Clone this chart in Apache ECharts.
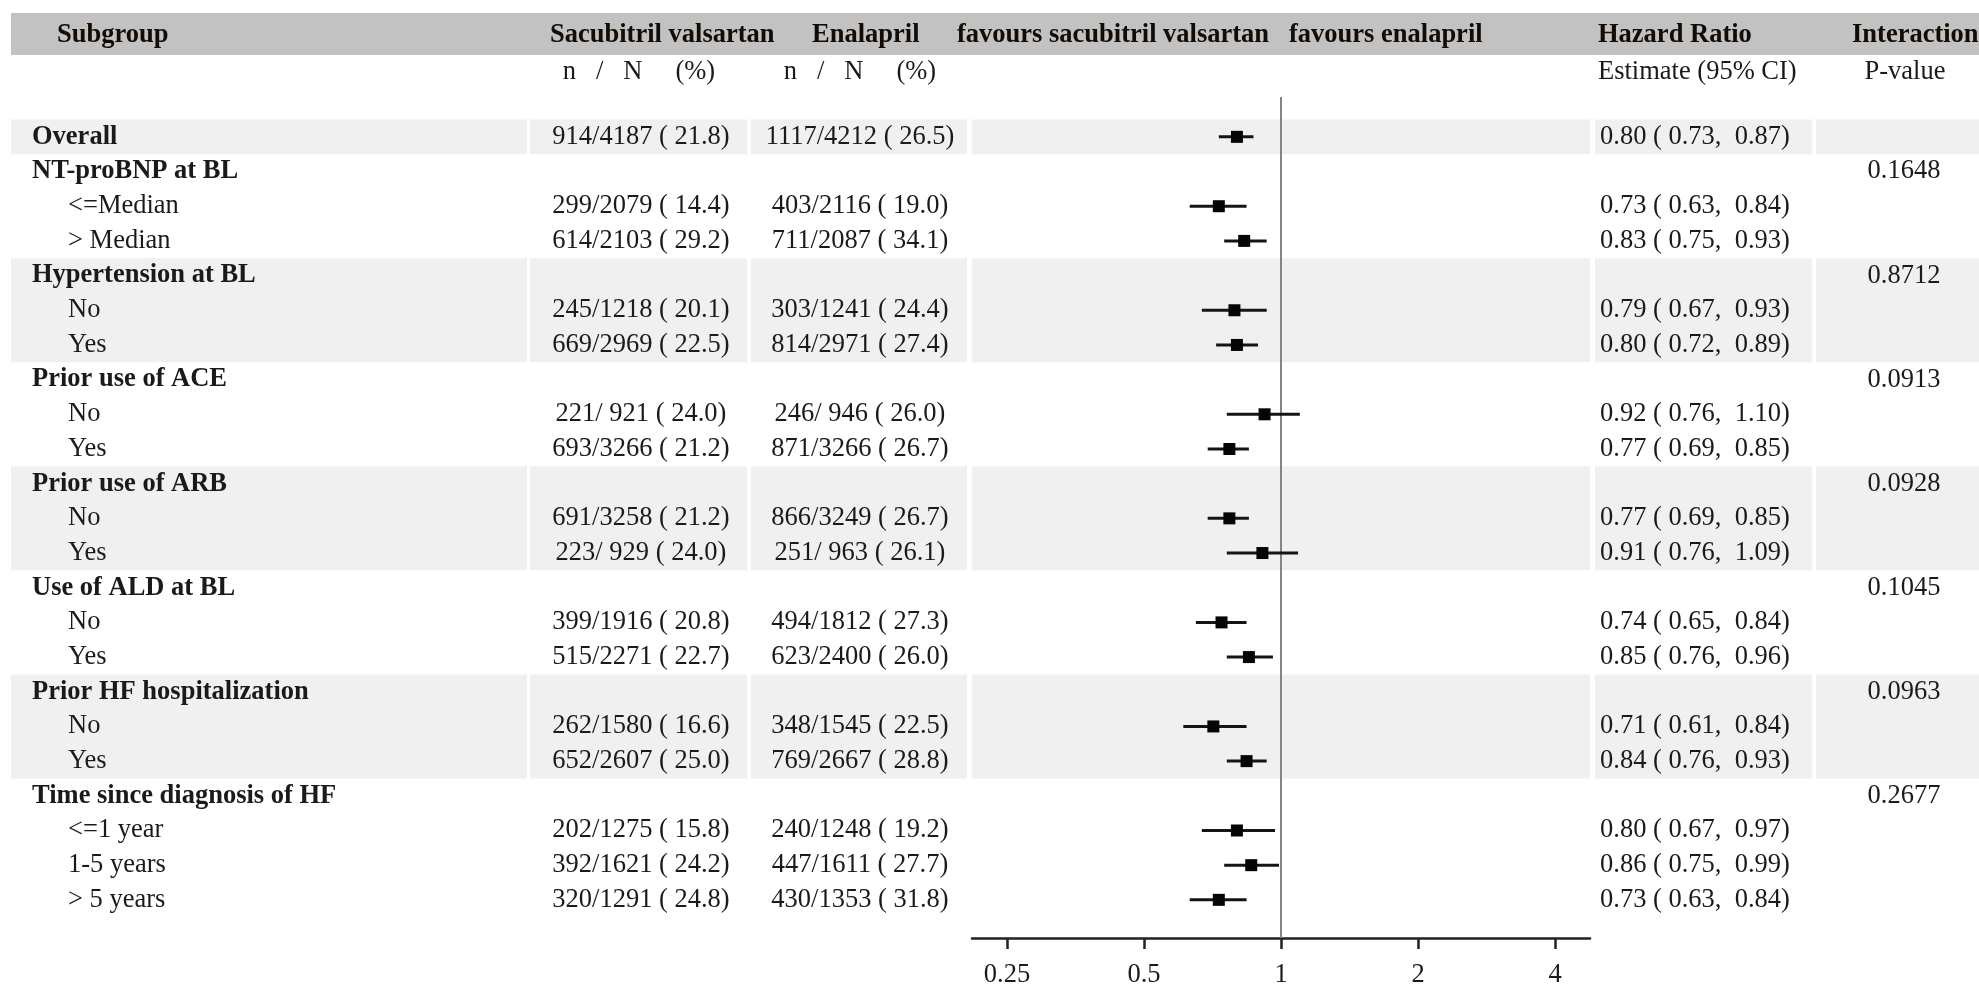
<!DOCTYPE html>
<html><head><meta charset="utf-8">
<script src="https://cdn.jsdelivr.net/npm/echarts@6/dist/echarts.min.js"></script>
<style>html,body{margin:0;padding:0;background:#fff}#c{width:1979px;height:989px}</style>
</head><body><div id="c"></div>
<script>
// ---------- data ----------
const subgroups = ["Overall","NT-proBNP at BL","<=Median","> Median","Hypertension at BL","No","Yes",
  "Prior use of ACE","No","Yes","Prior use of ARB","No","Yes","Use of ALD at BL","No","Yes",
  "Prior HF hospitalization","No","Yes","Time since diagnosis of HF","<=1 year","1-5 years","> 5 years"];
const headerRows = [0,1,4,7,10,13,16,19];
const sacN   = [914,null,299,614,null,245,669,null,221,693,null,691,223,null,399,515,null,262,652,null,202,392,320];
const sacTot = [4187,null,2079,2103,null,1218,2969,null,921,3266,null,3258,929,null,1916,2271,null,1580,2607,null,1275,1621,1291];
const sacPct = [21.8,null,14.4,29.2,null,20.1,22.5,null,24.0,21.2,null,21.2,24.0,null,20.8,22.7,null,16.6,25.0,null,15.8,24.2,24.8];
const enaN   = [1117,null,403,711,null,303,814,null,246,871,null,866,251,null,494,623,null,348,769,null,240,447,430];
const enaTot = [4212,null,2116,2087,null,1241,2971,null,946,3266,null,3249,963,null,1812,2400,null,1545,2667,null,1248,1611,1353];
const enaPct = [26.5,null,19.0,34.1,null,24.4,27.4,null,26.0,26.7,null,26.7,26.1,null,27.3,26.0,null,22.5,28.8,null,19.2,27.7,31.8];
const hrEst  = [0.80,null,0.73,0.83,null,0.79,0.80,null,0.92,0.77,null,0.77,0.91,null,0.74,0.85,null,0.71,0.84,null,0.80,0.86,0.73];
const hrLo   = [0.73,null,0.63,0.75,null,0.67,0.72,null,0.76,0.69,null,0.69,0.76,null,0.65,0.76,null,0.61,0.76,null,0.67,0.75,0.63];
const hrHi   = [0.87,null,0.84,0.93,null,0.93,0.89,null,1.10,0.85,null,0.85,1.09,null,0.84,0.96,null,0.84,0.93,null,0.97,0.99,0.84];
const pInteraction = [null,"0.1648",null,null,"0.8712",null,null,"0.0913",null,null,"0.0928",null,null,"0.1045",null,null,"0.0963",null,null,"0.2677",null,null,null];
const shadeBands = [[0,0],[4,6],[10,12],[16,18]];
const tickValues = [0.25,0.5,1,2,4];
const tickLabels = ["0.25","0.5","1","2","4"];

// ---------- layout ----------
const FONT = 'Liberation Serif';
const FS = 26.5;
const TXT = '#1a1a1a';
const HEAD = '#140c04';
const segs = [[11,527],[530,747],[751,967],[972,1590],[1595,1812],[1816,1979]];
const colX = {label:32, sub:68, sac:641, ena:860, hr:1600, p:1904};

function fmtCount(n, N, p){
  return n + '/' + String(N).padStart(4,' ') + ' ( ' + p.toFixed(1) + ')';
}
function fmtHR(e,l,h){ return e.toFixed(2) + ' ( ' + l.toFixed(2) + ',  ' + h.toFixed(2) + ')'; }

const chart = echarts.init(document.getElementById('c'), null, {renderer:'canvas'});

function txt(text, x, y, align, bold){
  return {type:'text', style:{text:text, x:x, y:y, align:align, verticalAlign:'middle',
    fontFamily:FONT, fontSize:FS, fontWeight: bold ? 'bold':'normal', fill:TXT}};
}
function headTxt(text, x, y, align, bold){
  return {type:'text', z:2, style:{text:text, x:x, y:y, align:align||'left', verticalAlign:'middle',
    fontFamily:FONT, fontSize:FS, fontWeight: bold ? 'bold':'normal', fill: bold ? HEAD : TXT}};
}

const rowData = subgroups.map((s,i)=>[1,i]);
const ciData = [];
const estData = [];
hrEst.forEach((e,i)=>{ if(e!=null){ ciData.push([e,i,hrLo[i],hrHi[i]]); estData.push([e,i]); } });

const option = {
  animation:false,
  backgroundColor:'#fff',
  grid:{left:972, right:1979-1590, top:97, bottom:989-941, containLabel:false},
  xAxis:{type:'log', logBase:2, min:0.2094, max:4.774,
    axisLine:{show:true, onZero:false, lineStyle:{color:'#222', width:2.5}},
    axisTick:{show:true, customValues:tickValues, length:11, lineStyle:{color:'#222', width:2.5}},
    axisLabel:{show:true, customValues:tickValues, margin:24, fontFamily:FONT, fontSize:FS, color:TXT,
      formatter:function(v){ let b=0,d=1e9; tickValues.forEach((t,k)=>{const dd=Math.abs(Math.log2(t)-Math.log2(v)); if(dd<d){d=dd;b=k;}}); return tickLabels[b]; }},
    splitLine:{show:false}},
  yAxis:{type:'value', inverse:true, min:-1.149, max:23.10, show:false, splitLine:{show:false}},
  graphic:[
    {type:'rect', shape:{x:11, y:13, width:1979-11, height:42}, style:{fill:'#c2c2c2'}, z:0},
    headTxt('Subgroup', 57, 35, 'left', true),
    headTxt('Sacubitril valsartan', 550, 35, 'left', true),
    headTxt('Enalapril', 812, 35, 'left', true),
    headTxt('favours sacubitril valsartan', 957, 35, 'left', true),
    headTxt('favours enalapril', 1289, 35, 'left', true),
    headTxt('Hazard Ratio', 1598, 35, 'left', true),
    headTxt('Interaction', 1852, 35, 'left', true),
    headTxt('n   /   N     (%)', 639, 72, 'center', false),
    headTxt('n   /   N     (%)', 860, 72, 'center', false),
    headTxt('Estimate (95% CI)', 1598, 72, 'left', false),
    headTxt('P-value', 1905, 72, 'center', false)
  ],
  series:[
    {type:'custom', name:'bands', clip:false, z:0, silent:true,
      data: shadeBands.map(b=>[1,b[0],b[1]]),
      renderItem:function(params, api){
        const y0 = api.coord([1, api.value(1)-0.5])[1];
        const y1 = api.coord([1, api.value(2)+0.5])[1];
        return {type:'group', children: segs.map(s=>({type:'rect', shape:{x:s[0], y:y0, width:s[1]-s[0], height:y1-y0}, style:{fill:'#f0f0f0'}}))};
      }},
    {type:'custom', name:'table', clip:false, z:5, silent:true,
      data: rowData,
      renderItem:function(params, api){
        const i = params.dataIndex;
        const y = api.coord([1, api.value(1)])[1];
        const isHead = headerRows.indexOf(i) >= 0;
        const ch = [];
        ch.push(txt(subgroups[i], isHead ? colX.label : colX.sub, y, 'left', isHead));
        if (sacN[i] != null) ch.push(txt(fmtCount(sacN[i], sacTot[i], sacPct[i]), colX.sac, y, 'center', false));
        if (enaN[i] != null) ch.push(txt(fmtCount(enaN[i], enaTot[i], enaPct[i]), colX.ena, y, 'center', false));
        if (hrEst[i] != null) ch.push(txt(fmtHR(hrEst[i], hrLo[i], hrHi[i]), colX.hr, y, 'left', false));
        if (pInteraction[i] != null) ch.push(txt(pInteraction[i], colX.p, y, 'center', false));
        return {type:'group', children: ch};
      }},
    {type:'custom', name:'ci', z:6, silent:true,
      data: ciData, encode:{x:0, y:1},
      renderItem:function(params, api){
        const r = api.value(1);
        const p0 = api.coord([api.value(2), r]);
        const p1 = api.coord([api.value(3), r]);
        return {type:'line', shape:{x1:p0[0], y1:p0[1], x2:p1[0], y2:p1[1]}, style:{stroke:'#151515', lineWidth:3}};
      }},
    {type:'scatter', name:'estimate', z:7, silent:true, symbol:'rect', symbolSize:12,
      itemStyle:{color:'#050505', opacity:1}, data: estData,
      markLine:{silent:true, symbol:'none', label:{show:false},
        lineStyle:{color:'#858585', width:2, type:'solid', opacity:1}, data:[{xAxis:1}]}}
  ]
};
chart.setOption(option);
</script>
</body></html>
